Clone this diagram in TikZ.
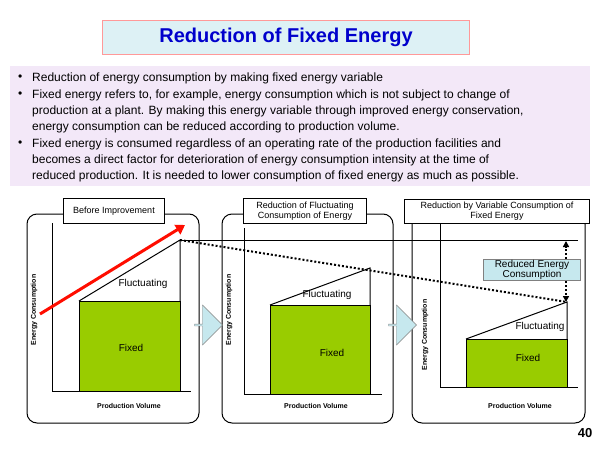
\documentclass[tikz,border=0pt]{standalone}
\usepackage{fontspec}
\setmainfont{Liberation Sans}
\usetikzlibrary{arrows.meta,shapes.arrows}
\definecolor{fixg}{HTML}{99CC00}
\definecolor{lblue}{HTML}{C6E8EE}
\definecolor{bgl}{HTML}{F3E8F8}
\begin{document}
\begin{tikzpicture}[x=1pt,y=-1pt,
  panel/.style={draw,line width=1pt,rounded corners=10pt},
  lbl/.style={draw,line width=1pt,fill=white,font=\fontsize{9}{9.5}\selectfont,align=center,inner sep=1pt},
  axis/.style={line width=1pt},
  fixbox/.style={draw,line width=1pt,fill=fixg},
  ax/.style={font=\bfseries\fontsize{7}{8}\selectfont},
  txt/.style={font=\fontsize{10}{11}\selectfont},
  bl/.style={anchor=west,font=\fontsize{12}{13}\selectfont,inner sep=0pt},
  barrow/.style={single arrow,draw=gray,fill=lblue,minimum width=40pt,single arrow head extend=4pt,minimum height=28pt,inner sep=0pt}]
\useasboundingbox (0,0) rectangle (600,450);
% title
\node[draw=pink!80!red,fill=lblue!60,minimum width=367pt,minimum height=34pt,font=\bfseries\fontsize{20}{22}\selectfont,text=blue!80!black] (title) at (286,37) {Reduction of Fixed Energy};
% bullets
\node[fill=bgl,minimum width=580pt,minimum height=120pt] (bg) at (300,126) {};
\foreach \y/\b/\t in {78/1/Reduction of energy consumption by making fixed energy variable,
 95/1/Fixed energy refers to{,} for example{,} energy consumption which is not subject to change of,
 111/0/production at a plant. By making this energy variable through improved energy conservation{,},
 127/0/energy consumption can be reduced according to production volume.,
 144/1/Fixed energy is consumed regardless of an operating rate of the production facilities and,
 160/0/becomes a direct factor for deterioration of energy consumption intensity at the time of,
 176/0/reduced production. It is needed to lower consumption of fixed energy as much as possible.}{
 \node[bl] at (32,\y) {\t};
 \ifnum\b=1 \node[bl] at (18,\y) {•};\fi
}
% panels
\draw[panel] (27,214) rectangle (199,423);
\draw[panel] (222,214) rectangle (393,423);
\draw[panel] (412,214) rectangle (585,423);
\node[barrow] (a1) at (208,325) {};
\node[barrow] (a2) at (402,325) {};
% panel1
\draw[axis] (52,223) -- (52,391) -- (191,391);
\draw[fixbox] (79,301) rectangle (180,391);
\draw[line width=1pt] (79,301) -- (180,240) -- (180,301);
\coordinate (t1) at (180,240);
\node[txt] at (143,284) {Fluctuating};
\node[txt] at (131,348) {Fixed};
\node[ax,rotate=90] at (34,310) {Energy Consumption};
\node[ax] at (129,406) {Production Volume};
\node[lbl,minimum width=101pt,minimum height=25pt] (l1) at (114,211) {Before Improvement};
\draw[red!90!orange,line width=3pt,-{Triangle[length=9pt,width=11pt]}] (40,314) -- (185,225);
% panel2
\draw[axis] (244,228) -- (244,394) -- (382,394);
\draw[fixbox] (270,305) rectangle (370,394);
\draw[line width=1pt] (270,305) -- (370,268) -- (370,305);
\node[txt] at (327,295) {Fluctuating};
\node[txt] at (332,353) {Fixed};
\node[ax,rotate=90] at (229,310) {Energy Consumption};
\node[ax] at (316,406) {Production Volume};
\node[lbl,minimum width=123pt,minimum height=25pt] (l2) at (305,211) {Reduction of Fluctuating\\Consumption of Energy};
% panel3
\draw[axis] (440,223) -- (440,387) -- (578,387);
\draw[fixbox] (466,339) rectangle (567,387);
\draw[line width=1pt] (466,339) -- (567,302) -- (567,339);
\coordinate (t3) at (567,302);
\node[txt] at (540,327) {Fluctuating};
\node[txt] at (528,358) {Fixed};
\node[ax,rotate=90] at (425,335) {Energy Consumption};
\node[ax] at (520,406) {Production Volume};
\node[lbl,minimum width=185pt,minimum height=24pt] (l3) at (497,211) {Reduction by Variable Consumption of\\Fixed Energy};
% lines
\coordinate (h3) at (578,240);
\draw[line width=0.6pt] (t1) -- (h3);
\draw[line width=2pt,dotted] (t1) -- (t3);
\node[draw=gray,fill=lblue,minimum width=97pt,minimum height=21pt,inner sep=0pt,align=center,font=\fontsize{10}{10}\selectfont] (red) at (532,270) {Reduced Energy\\Consumption};
\draw[line width=2pt,dotted,-{Triangle[length=6pt,width=6pt]}] (566,259) -- (566,241);
\draw[line width=2pt,dotted,-{Triangle[length=6pt,width=6pt]}] (566,281) -- (566,302);
\node[font=\bfseries\fontsize{13}{14}\selectfont] (num) at (585,433) {40};
\end{tikzpicture}
\end{document}
